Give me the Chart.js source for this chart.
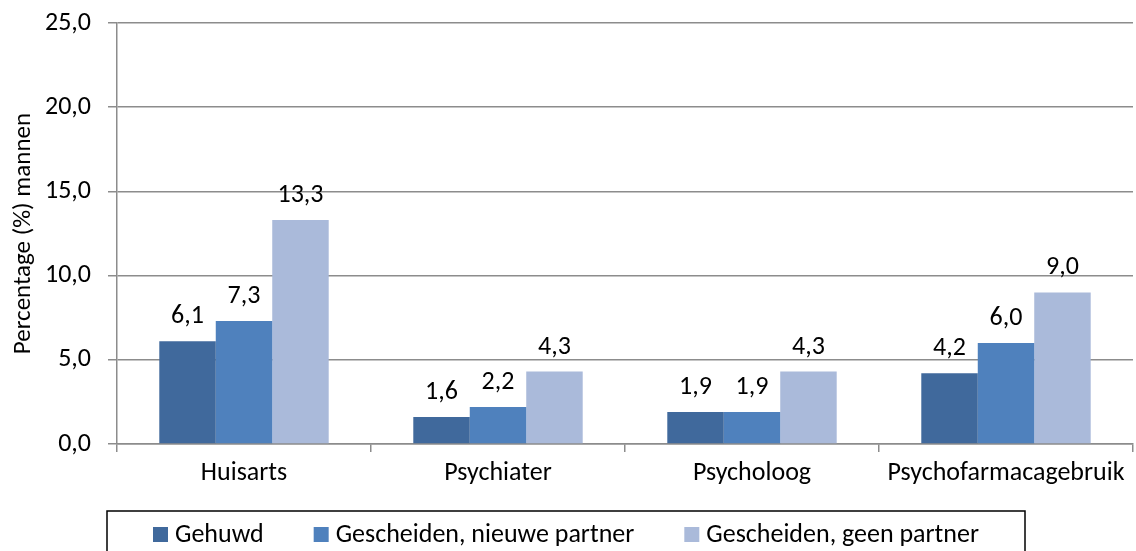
<!DOCTYPE html>
<html>
<head>
<meta charset="utf-8">
<script src="https://cdn.jsdelivr.net/npm/chart.js@4"></script>
<style>
    html, body { margin: 0; padding: 0; background: #fff; }
    #wrap { width: 1136px; height: 551px; }
</style>
</head>
<body>
<div id="wrap"><canvas id="MannenBarChart"></canvas></div>
<script>
// data
const categories = ["Huisarts", "Psychiater", "Psycholoog", "Psychofarmacagebruik"];
const gehuwd = [6.1, 1.6, 1.9, 4.2];
const nieuwePartner = [7.3, 2.2, 1.9, 6.0];
const geenPartner = [13.3, 4.3, 4.3, 9.0];
const seriesNames = ["Gehuwd", "Gescheiden, nieuwe partner", "Gescheiden, geen partner"];
const seriesColors = ["#40699C", "#4F81BD", "#AABADA"];
const yTicks = [0, 5, 10, 15, 20, 25];

const fontFamily = "Carlito, 'Open Sans', sans-serif";
const gridColor = "#8c8c8c";

function formatNl(v) {
    return v.toFixed(1).replace(".", ",");
}

// value labels above each bar
const valueLabels = {
    id: "valueLabels",
    afterDatasetsDraw: function (chart) {
        const ctx = chart.ctx;
        ctx.save();
        ctx.fillStyle = "#000";
        ctx.font = "26px " + fontFamily;
        ctx.textAlign = "center";
        ctx.textBaseline = "alphabetic";
        chart.data.datasets.forEach(function (ds, i) {
            chart.getDatasetMeta(i).data.forEach(function (bar, j) {
                ctx.fillText(formatNl(ds.data[j]), bar.x, bar.y - 18);
            });
        });
        ctx.restore();
    }
};

// legend in a box under the chart, like the original
const boxLegend = {
    id: "boxLegend",
    afterDraw: function (chart) {
        const ctx = chart.ctx;
        ctx.save();
        ctx.strokeStyle = "#000";
        ctx.lineWidth = 1.5;
        ctx.strokeRect(107, 511, 918, 60);
        ctx.font = "26px " + fontFamily;
        ctx.textBaseline = "middle";
        ctx.textAlign = "left";
        let x = 153;
        const y = 535;
        chart.data.datasets.forEach(function (ds) {
            ctx.fillStyle = ds.backgroundColor;
            ctx.fillRect(x, y - 8, 15, 15);
            ctx.fillStyle = "#000";
            ctx.fillText(ds.label, x + 22, y);
            x += 22 + ctx.measureText(ds.label).width + 50;
        });
        ctx.restore();
    }
};

const mannenChart = new Chart(document.getElementById("MannenBarChart"), {
    type: "bar",
    data: {
        labels: categories,
        datasets: [
            { label: seriesNames[0], data: gehuwd, backgroundColor: seriesColors[0] },
            { label: seriesNames[1], data: nieuwePartner, backgroundColor: seriesColors[1] },
            { label: seriesNames[2], data: geenPartner, backgroundColor: seriesColors[2] }
        ]
    },
    options: {
        responsive: true,
        maintainAspectRatio: false,
        animation: false,
        layout: {
            padding: { top: 23, right: 3, left: 0, bottom: 44 }
        },
        datasets: {
            bar: { barPercentage: 1.0, categoryPercentage: 0.667 }
        },
        plugins: {
            tooltip: { enabled: false },
            legend: { display: false }
        },
        scales: {
            x: {
                grid: {
                    display: true,
                    drawOnChartArea: false,
                    offset: true,
                    color: gridColor,
                    lineWidth: 1.5,
                    tickLength: 8
                },
                border: { color: gridColor, width: 1.5 },
                ticks: {
                    color: "#000",
                    font: { family: fontFamily, size: 26 },
                    padding: 6
                },
                afterFit: function (scale) {
                    scale.height = 63;
                }
            },
            y: {
                min: 0,
                max: 25,
                afterBuildTicks: function (scale) {
                    scale.ticks = yTicks.map(function (v) { return { value: v }; });
                },
                grid: {
                    color: gridColor,
                    lineWidth: 1.5,
                    tickLength: 9
                },
                border: { color: gridColor, width: 1.5 },
                ticks: {
                    color: "#000",
                    font: { family: fontFamily, size: 26 },
                    padding: 17,
                    callback: function (v) { return formatNl(v); }
                },
                title: {
                    display: true,
                    text: "Percentage (%) mannen",
                    color: "#000",
                    font: { family: fontFamily, size: 25 },
                    padding: { top: 9, bottom: 0 }
                },
                afterFit: function (scale) {
                    scale.width = 117;
                    scale.paddingTop = 0;
                    scale.paddingBottom = 0;
                }
            }
        }
    },
    plugins: [valueLabels, boxLegend]
});
</script>
</body>
</html>
